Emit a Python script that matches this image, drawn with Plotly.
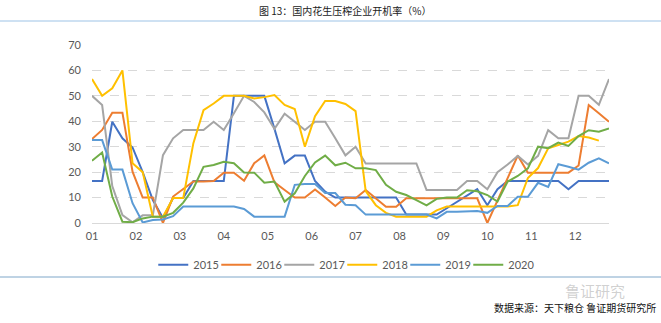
import plotly.graph_objects as go

weeks = list(range(52))
month_labels = ["01", "02", "03", "04", "05", "06", "07", "08", "09", "10", "11", "12"]
month_pos = [m * 52 / 12 for m in range(12)]

s2015 = [16.5, 16.5, 39.8, 33.3, 29.7, 20, 9, 2, 9.8, 9.8,
         16.5, 16.5, 16.5, 16.5, 50, 50, 50, 50, 37, 23.5,
         26.5, 26.5, 16.5, 12.3, 10, 10, 10, 10, 10, 10,
         10, 3.3, 3.3, 3.3, 3.3, 5.8, 8.3, 10.8, 13.3, 7,
         13.3, 16.5, 16.5, 16.5, 16.5, 16.5, 16.5, 13.3, 16.5, 16.5,
         16.5, 16.5]
s2016 = [33, 36.6, 43.4, 43.4, 20.2, 10, 10, 0, 10.4, 13.2,
         16.3, 16.3, 16.5, 19.8, 19.8, 16.6, 23.5, 26.6, 16, 13,
         10, 10, 13.2, 10, 6.7, 10, 9.7, 13, 9.7, 6.4,
         6.4, 9.7, 9.7, 9.7, 9.7, 9.7, 9.7, 9.7, 9.7, 0,
         8.8, 17.7, 26.5, 19.8, 19.8, 19.8, 19.8, 19.8, 22.6, 46.4,
         43.2, 39.8]
s2017 = [50, 46.4, 14.5, 3.1, 0.3, 3, 3, 26.7, 33.3, 36.6,
         36.6, 36.6, 39.8, 36.6, 43.2, 50, 47.6, 43.5, 37, 43,
         39.8, 36.6, 39.8, 39.8, 33.3, 26.6, 30, 23.4, 23.4, 23.4,
         23.4, 23.4, 23.4, 13, 13, 13, 13, 16.5, 16.5, 13.3,
         20, 23, 26.4, 23, 26.4, 36.5, 33.3, 33.3, 50, 50,
         46.5, 56.6]
s2018 = [56.6, 50, 53, 60, 23.5, 20, 2.5, 2.5, 9.8, 9.8,
         31.4, 44.4, 47, 50, 50, 50, 49, 49.5, 50.3, 46.4,
         44.8, 30, 42, 48, 48, 46.8, 44, 12.5, 7, 4,
         2.5, 2.5, 2.5, 2.5, 5, 6.5, 6.5, 6.5, 6.5, 6.5,
         6.5, 6.5, 7, 17.7, 21.6, 29.4, 30.7, 32, 34.2, 33.6,
         32.4]
s2019 = [32.6, 32.6, 21, 21, 7.8, 0.2, 1.2, 1.4, 2.7, 6.5,
         6.5, 6.5, 6.5, 6.5, 6.5, 5.5, 2.5, 2.5, 2.5, 2.5,
         15, 15.3, 15.3, 11.8, 11.8, 7.2, 7, 3.3, 3.3, 3.3,
         3.3, 3.3, 3.3, 3.3, 1.8, 4.4, 4.4, 4.5, 4.7, 4,
         6.7, 6.7, 10.3, 10.3, 15.8, 14.2, 23.1, 22.1, 21, 23.7,
         25.4, 23.5]
s2020 = [24.5, 27.7, 10.4, 0.5, 0.3, 1.8, 2.5, 2.5, 4, 8,
         13.6, 22.1, 22.8, 24.1, 23.5, 19.9, 19.8, 15.8, 16.3, 8.4,
         11.7, 18.5, 23.8, 26.5, 22.7, 23.7, 21.5, 21.5, 20.8, 15,
         12.3, 11, 9, 6.9, 9.5, 10, 10, 12.9, 12.5, 11,
         8.4, 16.3, 18.5, 21.5, 30, 29.4, 31.6, 30.3, 34.2, 36.5,
         35.9, 37.2]

series_names = ["2015", "2016", "2017", "2018", "2019", "2020"]
series_values = [s2015, s2016, s2017, s2018, s2019, s2020]
colors = ["#4472C4", "#ED7D31", "#A5A5A5", "#FFC000", "#5B9BD5", "#70AD47"]

title_text = "图 13：国内花生压榨企业开机率（%）"
source_text = "数据来源：天下粮仓 鲁证期货研究所"
watermark_text = "鲁证研究"

fig = go.Figure()
for name, vals, c in zip(series_names, series_values, colors):
    fig.add_trace(go.Scatter(x=weeks[:len(vals)], y=vals, mode="lines", name=name,
                             line=dict(color=c, width=2)))
# spacer legend entry (no data) so the last legend label is not clipped
fig.add_trace(go.Scatter(x=[None], y=[None], mode="lines", name=" ",
                         line=dict(color="rgba(0,0,0,0)", width=0), hoverinfo="skip"))

fig.update_layout(
    width=661, height=323,
    margin=dict(l=92, r=52, t=45, b=100),
    paper_bgcolor="white", plot_bgcolor="white",
    font=dict(family="Lato, 'Noto Sans', sans-serif", size=11, color="#595959"),
    showlegend=True,
    legend=dict(orientation="h", x=0.545, xanchor="center", y=-0.235, yanchor="middle",
                font=dict(size=11, color="#595959"), entrywidth=18, entrywidthmode="pixels",
                itemwidth=30, bgcolor="rgba(0,0,0,0)"),
    xaxis=dict(range=[0, 51], tickmode="array", tickvals=month_pos, ticktext=month_labels,
               showgrid=False, zeroline=False, showline=False, ticks="", ticklabelstandoff=5,
               tickfont=dict(size=11, color="#595959")),
    yaxis=dict(range=[0, 70], dtick=10, showgrid=True, gridcolor="#D9D9D9", griddash="dash",
               gridwidth=1, zeroline=True, zerolinecolor="#D9D9D9", zerolinewidth=1,
               showline=False, ticks="", ticklabelstandoff=10,
               tickfont=dict(size=11, color="#595959")),
)

fig.add_annotation(text=title_text, xref="paper", yref="paper", x=(345 - 92) / 517, y=1 + (45 - 10) / 178,
                   showarrow=False, xanchor="center", yanchor="middle",
                   font=dict(family="'Noto Sans CJK SC'", size=10, color="#222222"))
fig.add_annotation(text=source_text, xref="paper", yref="paper", x=(658 - 92) / 517, y=-(307 - 223) / 178,
                   showarrow=False, xanchor="right", yanchor="middle",
                   font=dict(family="'Noto Sans CJK SC'", size=10, color="#111111"))
fig.add_annotation(text=watermark_text, xref="paper", yref="paper", x=(595 - 92) / 517, y=-(290 - 223) / 178,
                   showarrow=False, xanchor="center", yanchor="middle",
                   font=dict(family="'Noto Sans CJK SC'", size=15, color="rgba(150,150,150,0.45)"))

fig.add_shape(type="line", xref="paper", yref="paper", x0=-92 / 517, x1=(661 - 92) / 517,
              y0=1 + (45 - 21) / 178, y1=1 + (45 - 21) / 178, line=dict(color="#9DC3E6", width=1))
fig.add_shape(type="line", xref="paper", yref="paper", x0=-92 / 517, x1=(661 - 92) / 517,
              y0=-(277 - 223) / 178, y1=-(277 - 223) / 178, line=dict(color="#7FA7C9", width=1))

fig.write_html("out.html")
